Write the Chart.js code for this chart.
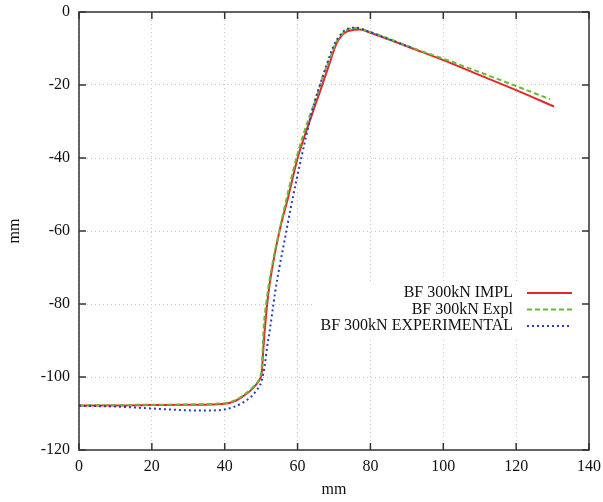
<!DOCTYPE html>
<html>
<head>
<meta charset="utf-8">
<script src="https://cdn.jsdelivr.net/npm/chart.js@4"></script>
<style>
  html, body { margin: 0; padding: 0; background: #fff; }
  canvas { display: block; }
</style>
</head>
<body>
<canvas id="chart" width="603" height="502"></canvas>
<script>
"use strict";

// Displacement curves (x mm, y mm)
const implX = [0, 10, 20, 30, 40, 43, 45, 47, 48.5, 49.5, 50.2, 50.5, 51, 52, 53.8, 55.5, 57.1, 60.1, 62.5, 64.5, 66.6, 68.7, 70.7, 72, 73.5, 75.5, 77.1, 80, 85, 92.7, 100, 110, 120, 130.4];
const implY = [-107.8, -107.8, -107.7, -107.6, -107.3, -106.5, -105.3, -103.8, -102.2, -100.8, -98.5, -94, -87, -77, -66, -58, -52, -39.7, -32.3, -26.5, -20.5, -14.3, -8.6, -6.6, -5.4, -4.9, -4.8, -5.7, -7.5, -10.4, -13.2, -17.3, -21.4, -25.9];

const explX = [0, 20, 40, 43, 45, 47, 48.5, 49.5, 50.1, 50.4, 50.6, 51.5, 53.3, 55, 57, 59.8, 62, 65.2, 67, 68.9, 70.5, 72.5, 74.4, 76.5, 78, 85, 92, 100, 110, 120, 129.3];
const explY = [-107.8, -107.6, -107.2, -106.3, -105.1, -103.5, -102, -100.5, -98, -93, -88, -79, -68, -60, -51, -39.6, -32.3, -23.2, -17.5, -12.7, -8.5, -5.8, -4.5, -4.4, -4.8, -7.3, -10, -12.8, -16.5, -20.3, -23.9];

const expX = [0, 10, 19.5, 25, 33.2, 38, 40, 42.5, 45, 47, 48.8, 50, 50.6, 51.1, 51.6, 52.4, 53.1, 53.8, 55, 56.1, 58.4, 61.1, 63.4, 65, 66.6, 68.2, 69.8, 71.2, 72.5, 73.8, 75.3, 76.8, 78, 82, 87, 91.8];
const expY = [-107.9, -108.1, -108.6, -108.9, -109.2, -109.1, -108.9, -108.2, -107, -105.6, -103.6, -101.5, -99, -96, -92, -87, -82, -77, -70, -64.3, -52.3, -39.6, -29.6, -23.5, -18.6, -13.8, -9.5, -7, -5.4, -4.6, -4.3, -4.4, -4.8, -6.3, -8.2, -10];

const seriesNames = ["BF 300kN IMPL", "BF 300kN Expl", "BF 300kN EXPERIMENTAL"];
const seriesColors = ["#e8262a", "#66bb33", "#2a3eb1"];
const seriesDash = [[], [5, 3], [2, 3]];

const xTicks = [0, 20, 40, 60, 80, 100, 120, 140];
const yTicks = [0, -20, -40, -60, -80, -100, -120];

const FONT = "'Liberation Serif', 'Times New Roman', serif";

const toPoints = (xs, ys) => xs.map((x, i) => ({ x: x, y: ys[i] }));

// keep the edge tick labels from shrinking the plot area
const noEdgePadding = function (scale) {
    scale.paddingLeft = 0;
    scale.paddingRight = 0;
    scale.paddingTop = 0;
    scale.paddingBottom = 0;
};

// legend box with text on the left and line sample on the right
const keyPlugin = {
    id: "key",
    afterDatasetsDraw(chart) {
        const ctx = chart.ctx;
        const area = chart.chartArea;
        ctx.save();
        ctx.fillStyle = "#fff";
        ctx.fillRect(314, 283, area.right - 314, 57);
        ctx.font = "16px " + FONT;
        ctx.textAlign = "right";
        ctx.textBaseline = "middle";
        seriesNames.forEach(function (name, i) {
            const y = 293 + i * 16.5;
            ctx.fillStyle = "#111";
            ctx.fillText(name, 513, y);
            ctx.beginPath();
            ctx.strokeStyle = seriesColors[i];
            ctx.lineWidth = 2;
            ctx.setLineDash(seriesDash[i]);
            ctx.moveTo(527, y);
            ctx.lineTo(572, y);
            ctx.stroke();
        });
        ctx.restore();
    },
    afterDraw(chart) {
        // frame with inward ticks on all four sides
        const ctx = chart.ctx;
        const a = chart.chartArea;
        const xs = chart.scales.x;
        const ys = chart.scales.y;
        const len = 7;
        ctx.save();
        ctx.strokeStyle = "#333";
        ctx.lineWidth = 1.5;
        ctx.strokeRect(a.left, a.top, a.right - a.left, a.bottom - a.top);
        ctx.beginPath();
        xTicks.forEach(function (v) {
            const px = xs.getPixelForValue(v);
            ctx.moveTo(px, a.bottom);
            ctx.lineTo(px, a.bottom - len);
            ctx.moveTo(px, a.top);
            ctx.lineTo(px, a.top + len);
        });
        yTicks.forEach(function (v) {
            const py = ys.getPixelForValue(v);
            ctx.moveTo(a.left, py);
            ctx.lineTo(a.left + len, py);
            ctx.moveTo(a.right, py);
            ctx.lineTo(a.right - len, py);
        });
        ctx.stroke();
        ctx.restore();
    }
};

const data = {
    datasets: [
        { label: seriesNames[0], data: toPoints(implX, implY), order: 3 },
        { label: seriesNames[1], data: toPoints(explX, explY), order: 2 },
        { label: seriesNames[2], data: toPoints(expX, expY), order: 1 }
    ].map(function (ds, i) {
        return Object.assign(ds, {
            borderColor: seriesColors[i],
            borderDash: seriesDash[i],
            borderWidth: 2,
            showLine: true,
            fill: false,
            pointRadius: 0,
            cubicInterpolationMode: "monotone"
        });
    })
};

const gridOpts = {
    color: "#c8c8c8",
    lineWidth: 1,
    drawTicks: false
};

const config = {
    type: "scatter",
    data: data,
    options: {
        responsive: false,
        animation: false,
        layout: { padding: { left: 0, right: 14, top: 12, bottom: 0 } },
        scales: {
            x: {
                type: "linear",
                min: 0,
                max: 140,
                afterBuildTicks: function (scale) {
                    scale.ticks = xTicks.map(v => ({ value: v }));
                },
                afterFit: function (scale) {
                    scale.height = 52;
                    noEdgePadding(scale);
                },
                grid: gridOpts,
                border: { display: false, dash: [1, 3] },
                ticks: { color: "#111", padding: 7, font: { family: FONT, size: 16 } },
                title: {
                    display: true,
                    text: "mm",
                    color: "#111",
                    padding: { top: 0, bottom: 3 },
                    font: { family: FONT, size: 16 }
                }
            },
            y: {
                type: "linear",
                min: -120,
                max: 0,
                afterBuildTicks: function (scale) {
                    scale.ticks = yTicks.map(v => ({ value: v }));
                },
                afterFit: function (scale) {
                    scale.width = 79;
                    noEdgePadding(scale);
                },
                grid: gridOpts,
                border: { display: false, dash: [1, 3] },
                ticks: { color: "#111", padding: 9, font: { family: FONT, size: 16 } },
                title: {
                    display: true,
                    text: "mm",
                    color: "#111",
                    padding: { top: 5, bottom: 0 },
                    font: { family: FONT, size: 16 }
                }
            }
        },
        plugins: {
            legend: { display: false },
            tooltip: { enabled: false }
        }
    },
    plugins: [keyPlugin]
};

new Chart(document.getElementById("chart").getContext("2d"), config);
</script>
</body>
</html>
